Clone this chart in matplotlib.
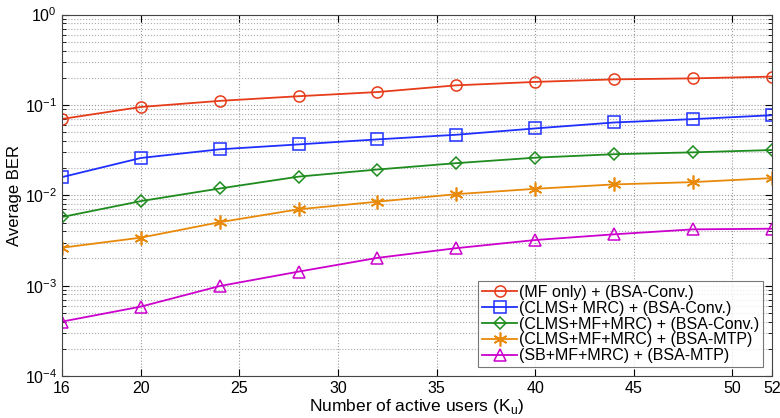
import matplotlib
matplotlib.use('Agg')
import matplotlib.pyplot as plt
from matplotlib.ticker import LogLocator, NullFormatter
import numpy as np

plt.rcParams['font.family'] = ['Liberation Sans', 'DejaVu Sans']

# number of active users
users = [16, 20, 24, 28, 32, 36, 40, 44, 48, 52]

# average BER per scheme
ber_mf = [0.070, 0.095, 0.111, 0.125, 0.139, 0.165, 0.180, 0.192, 0.197, 0.206]
ber_clms_mrc = [0.0159, 0.0259, 0.0323, 0.0366, 0.0416, 0.0468, 0.055, 0.064, 0.0697, 0.077]
ber_clms_mf_mrc = [0.00575, 0.00863, 0.0119, 0.0161, 0.0193, 0.0227, 0.0261, 0.0285, 0.0299, 0.0317]
ber_clms_mtp = [0.00263, 0.0034, 0.00504, 0.0070, 0.0085, 0.0103, 0.0118, 0.0132, 0.0140, 0.0155]
ber_sb_mtp = [0.00040, 0.000586, 0.00099, 0.00143, 0.00203, 0.0026, 0.0032, 0.0037, 0.0042, 0.00427]

labels = ['(MF only) + (BSA-Conv.)',
          '(CLMS+ MRC) + (BSA-Conv.)',
          '(CLMS+MF+MRC) + (BSA-Conv.)',
          '(CLMS+MF+MRC) + (BSA-MTP)',
          '(SB+MF+MRC) + (BSA-MTP)']
x_ticks = [16, 20, 25, 30, 35, 40, 45, 50, 52]

series = [ber_mf, ber_clms_mrc, ber_clms_mf_mrc, ber_clms_mtp, ber_sb_mtp]
colors = ['#e63c1a', '#1f2fff', '#1e8c1e', '#e8890a', '#cc00cc']
markers = ['o', 's', 'D', (6, 2, 0), '^']
msizes = [8, 8, 6.5, 10, 8]

fig = plt.figure(figsize=(7.8, 4.18), dpi=100)
ax = fig.add_axes([0.0795, 0.1005, 0.910, 0.8645])

for ys, c, m, ms, lab in zip(series, colors, markers, msizes, labels):
    if isinstance(m, tuple):
        ax.plot(users, ys, color=c, marker=m, markersize=ms, markeredgewidth=1.2,
                linewidth=1.3, label=lab)
    else:
        ax.plot(users, ys, color=c, marker=m, markersize=ms, markerfacecolor='none',
                markeredgewidth=1.1, linewidth=1.3, label=lab)

ax.set_yscale('log')
ax.set_ylim(1e-4, 1)
ax.set_xlim(16, 52)
ax.set_xticks(x_ticks)
ax.yaxis.set_minor_locator(LogLocator(base=10, subs=np.arange(2, 10)))
ax.yaxis.set_minor_formatter(NullFormatter())

ax.grid(True, which='major', linestyle=':', color='#999999', linewidth=0.8)
ax.grid(True, which='minor', axis='y', linestyle=':', color='#aaaaaa', linewidth=0.8)
ax.tick_params(which='both', direction='in', top=True, right=True, labelsize=11.5)
ax.tick_params(which='major', length=5)
ax.tick_params(which='minor', length=3)
for s in ax.spines.values():
    s.set_color('#444444')

ax.set_xlabel('Number of active users (K$_{\\mathregular{u}}$)', fontsize=12.5, labelpad=1)
ax.set_ylabel('Average BER', fontsize=12, labelpad=2)

leg = ax.legend(loc='lower right', fontsize=11.5, frameon=True, fancybox=False,
                borderpad=0.25, labelspacing=0.05, handlelength=2.2, handletextpad=0.1,
                borderaxespad=0.55)
leg.get_frame().set_edgecolor('#555555')
leg.get_frame().set_linewidth(0.8)

fig.savefig('out.png', dpi=100)
